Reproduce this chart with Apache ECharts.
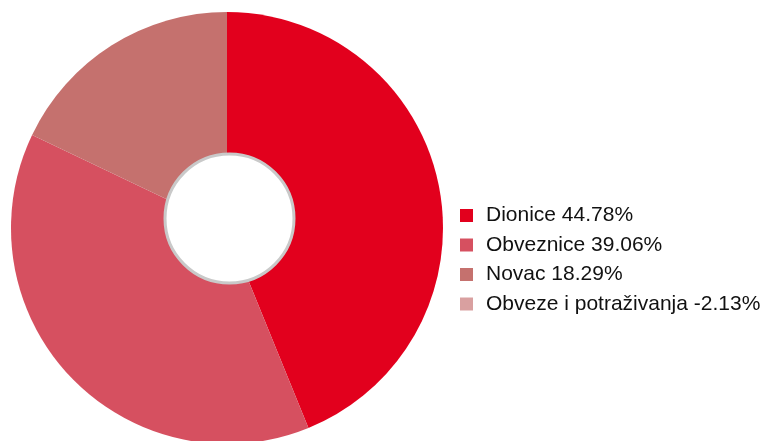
<!DOCTYPE html>
<html>
<head>
<meta charset="utf-8">
<script src="https://cdn.jsdelivr.net/npm/echarts@6/dist/echarts.min.js"></script>
<style>
  html, body { margin: 0; padding: 0; background: #fff; }
  #chart { width: 765px; height: 441px; }
</style>
</head>
<body>
<div id="chart"></div>
<script>
// udjeli u portfelju
const names = ['Dionice', 'Obveznice', 'Novac', 'Obveze i potraživanja'];
const shares = [44.78, 39.06, 18.29, -2.13];
const colors = ['#e2001d', '#d65060', '#c5716e', '#d9a0a0'];

let chart = echarts.init(document.getElementById('chart'));

// negativni udio ne crta se u krugu, samo u legendi
let pieData = names.map((n, i) => ({
  name: n,
  value: shares[i] > 0 ? shares[i] : 0,
  itemStyle: { color: colors[i] }
}));

let option = {
  animation: false,
  legend: {
    orient: 'vertical',
    left: 460,
    top: 205,
    padding: 0,
    itemWidth: 13,
    itemHeight: 13,
    itemGap: 8.5,
    icon: 'rect',
    selectedMode: false,
    textStyle: {
      fontFamily: 'Liberation Sans, Arial, sans-serif',
      fontSize: 21,
      lineHeight: 21,
      color: '#111',
      padding: [0, 0, 0, 8]
    },
    formatter: name => {
      let i = names.indexOf(name);
      return name + ' ' + shares[i].toFixed(2) + '%';
    },
    data: names
  },
  series: [
    {
      type: 'pie',
      center: [227, 228],
      radius: 216,
      startAngle: 90,
      clockwise: true,
      label: { show: false },
      labelLine: { show: false },
      emphasis: { disabled: true },
      itemStyle: { borderWidth: 0 },
      data: pieData
    }
  ],
  graphic: [
    {
      type: 'circle',
      shape: { cx: 229.5, cy: 218.5, r: 64.5 },
      style: { fill: '#fff', stroke: '#c9c9c9', lineWidth: 3 },
      z: 100
    }
  ]
};

chart.setOption(option);
</script>
</body>
</html>
